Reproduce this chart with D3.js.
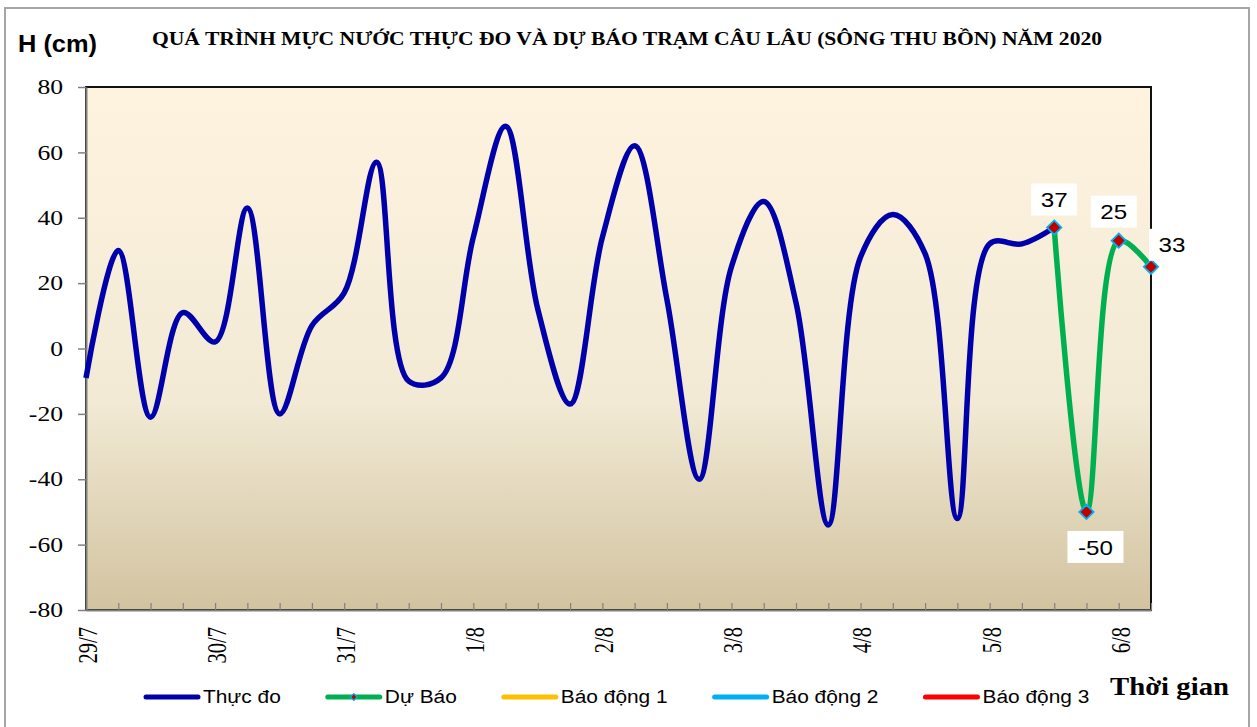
<!DOCTYPE html>
<html>
<head>
<meta charset="utf-8">
<script src="https://cdn.jsdelivr.net/npm/d3@7"></script>
<style>
  body { margin: 0; background: #fff; }
  svg { display: block; }
</style>
</head>
<body>
<div id="chart"></div>
<script>
// data (one point every 6 hours)
var thucDo = [-9, 30, -21, 11, 2, 43, -20, 7, 17, 57, -10, -9, 34, 68, 12, -17, 34, 62, 15, -40,
              25, 45, 14, -54, 28, 41, 29, -52, 32, 32, 37];
var duBaoStart = 30;
var duBao = [37, -50, 33, 25];
var duBaoLabels = ['37', '-50', '25', '33'];   // as printed on the chart
var nPoints = 34;
var dayLabels = ['29/7', '30/7', '31/7', '1/8', '2/8', '3/8', '4/8', '5/8', '6/8'];
var yTicks = [-80, -60, -40, -20, 0, 20, 40, 60, 80];
var legendNames = ['Thực đo', 'Dự Báo', 'Báo động 1', 'Báo động 2', 'Báo động 3'];
var legendColors = ['#0000AA', '#00B050', '#FFC000', '#00B0F0', '#FF0000'];

var width = 1257, height = 727;
var svg = d3.select('#chart').append('svg').attr('width', width).attr('height', height);

var pLeft = 86, pRight = 1151, pTop = 87, pBottom = 610;

var x = d3.scaleLinear().domain([0, nPoints - 1]).range([pLeft, pRight]);
var y = d3.scaleLinear().domain([-80, 80]).range([pBottom, pTop]);

function stretch(sel, k) {
	sel.each(function() {
		var w = this.getComputedTextLength();
		d3.select(this).attr('textLength', w * k).attr('lengthAdjust', 'spacingAndGlyphs');
	});
}

// outer frame
svg.append('rect')
	.attr('x', 5).attr('y', 8).attr('width', 1244).attr('height', 740)
	.attr('fill', '#fff').attr('stroke', '#a6a6a6').attr('stroke-width', 2);

// plot background gradient
var grad = svg.append('defs').append('linearGradient')
	.attr('id', 'bg').attr('x1', 0).attr('y1', 0).attr('x2', 0).attr('y2', 1);
grad.append('stop').attr('offset', 0).attr('stop-color', '#FEF3DE');
grad.append('stop').attr('offset', 0.6).attr('stop-color', '#F2EAD5');
grad.append('stop').attr('offset', 1).attr('stop-color', '#D2C3A0');

svg.append('rect')
	.attr('x', pLeft).attr('y', pTop)
	.attr('width', pRight - pLeft).attr('height', pBottom - pTop)
	.attr('fill', 'url(#bg)').attr('stroke', '#111').attr('stroke-width', 2);

// y axis
var yAxis = svg.append('g')
	.attr('transform', 'translate(' + pLeft + ',0)')
	.call(d3.axisLeft(y).tickValues(yTicks).tickSize(8).tickPadding(15).tickSizeOuter(0)
		.tickFormat(function(d) { return String(d); }));
yAxis.select('.domain').attr('stroke', '#808080').attr('stroke-width', 2);
yAxis.selectAll('line').attr('stroke', '#808080').attr('stroke-width', 1.5);
yAxis.selectAll('text')
	.style('font-family', '"Liberation Serif", serif')
	.style('font-size', '21px')
	.attr('fill', '#000');
stretch(yAxis.selectAll('text'), 1.22);

// x axis: small inner ticks at every point
var xAxis = svg.append('g')
	.attr('transform', 'translate(0,' + pBottom + ')')
	.call(d3.axisBottom(x).tickValues(d3.range(1, nPoints)).tickSizeInner(-7).tickSizeOuter(0).tickFormat(''));
xAxis.select('.domain').attr('stroke', '#808080').attr('stroke-width', 2);
xAxis.selectAll('line').attr('stroke', '#808080').attr('stroke-width', 1.2);

// day labels, rotated
var xLab = svg.append('g')
	.attr('transform', 'translate(0,' + pBottom + ')')
	.call(d3.axisBottom(x)
		.tickValues(dayLabels.map(function(d, i) { return i * 4; }))
		.tickFormat(function(d) { return dayLabels[d / 4]; })
		.tickSize(0));
xLab.select('.domain').remove();
xLab.selectAll('text')
	.attr('transform', 'rotate(-90)')
	.attr('text-anchor', 'end')
	.attr('x', -17).attr('y', 1).attr('dy', '0.35em')
	.style('font-family', '"Liberation Serif", serif')
	.style('font-size', '27px')
	.attr('fill', '#000');
stretch(xLab.selectAll('text'), 0.76);

// lines
var line = d3.line()
	.x(function(d) { return x(d.i); })
	.y(function(d) { return y(d.v); })
	.curve(d3.curveCatmullRom.alpha(0.5));

var obs = thucDo.map(function(v, i) { return {i: i, v: v}; });
var fc = duBao.map(function(v, i) { return {i: duBaoStart + i, v: v}; });

svg.append('path')
	.datum(obs)
	.attr('d', line)
	.attr('fill', 'none')
	.attr('stroke', legendColors[0])
	.attr('stroke-width', 5.5)
	.attr('stroke-linejoin', 'round');

svg.append('path')
	.datum(fc)
	.attr('d', line)
	.attr('fill', 'none')
	.attr('stroke', legendColors[1])
	.attr('stroke-width', 5.5)
	.attr('stroke-linejoin', 'round');

var diamond = d3.symbol().type(d3.symbolDiamond2).size(130);
svg.selectAll('.mk')
	.data(fc)
	.enter()
	.append('path')
	.attr('class', 'mk')
	.attr('d', diamond)
	.attr('transform', function(d) { return 'translate(' + x(d.i) + ',' + y(d.v) + ')'; })
	.attr('fill', '#C00000')
	.attr('stroke', '#00B0F0')
	.attr('stroke-width', 1.8);

// data labels (offsets from their point)
var labOff = [[0, -28], [9, 35], [-5, -29], [21, -22]];
var labels = svg.selectAll('.dl')
	.data(fc)
	.enter()
	.append('g')
	.attr('class', 'dl')
	.attr('transform', function(d, i) {
		return 'translate(' + (x(d.i) + labOff[i][0]) + ',' + (y(d.v) + labOff[i][1]) + ')';
	});
labels.append('rect')
	.attr('x', function(d, i) { return duBaoLabels[i].length > 2 ? -28 : -23; })
	.attr('y', -16)
	.attr('width', function(d, i) { return duBaoLabels[i].length > 2 ? 56 : 46; })
	.attr('height', 32)
	.attr('fill', '#fff');
var labText = labels.append('text')
	.attr('text-anchor', 'middle')
	.attr('dy', '0.36em')
	.style('font-family', '"Liberation Sans", Arial, sans-serif')
	.style('font-size', '21px')
	.text(function(d, i) { return duBaoLabels[i]; });
stretch(labText, 1.15);

// titles
svg.append('text')
	.attr('x', 627).attr('y', 45)
	.attr('text-anchor', 'middle')
	.attr('textLength', 950).attr('lengthAdjust', 'spacingAndGlyphs')
	.style('font-family', '"Liberation Serif", serif')
	.style('font-weight', 'bold')
	.style('font-size', '19px')
	.text('QUÁ TRÌNH MỰC NƯỚC THỰC ĐO VÀ DỰ BÁO TRẠM CÂU LÂU (SÔNG THU BỒN) NĂM  2020');

svg.append('text')
	.attr('x', 18).attr('y', 52)
	.attr('textLength', 79).attr('lengthAdjust', 'spacingAndGlyphs')
	.style('font-family', '"Liberation Sans", Arial, sans-serif')
	.style('font-weight', 'bold')
	.style('font-size', '23px')
	.text('H (cm)');

svg.append('text')
	.attr('x', 1110).attr('y', 695)
	.attr('textLength', 119).attr('lengthAdjust', 'spacingAndGlyphs')
	.style('font-family', '"Liberation Serif", serif')
	.style('font-weight', 'bold')
	.style('font-size', '26px')
	.text('Thời gian');

// legend
var lx = 144, ly = 697;
legendNames.forEach(function(name, i) {
	var g = svg.append('g').attr('transform', 'translate(' + lx + ',' + ly + ')');
	g.append('line')
		.attr('x1', 2).attr('x2', 54)
		.attr('stroke', legendColors[i])
		.attr('stroke-width', 5)
		.attr('stroke-linecap', 'round');
	if (i === 1) {
		g.append('path')
			.attr('d', d3.symbol().type(d3.symbolDiamond2).size(30))
			.attr('transform', 'translate(28,0)')
			.attr('fill', '#C00000')
			.attr('stroke', '#00B0F0')
			.attr('stroke-width', 1.2);
	}
	var t = g.append('text')
		.attr('x', 59).attr('dy', '0.36em')
		.style('font-family', '"Liberation Sans", Arial, sans-serif')
		.style('font-size', '18px')
		.text(name);
	var w = t.node().getComputedTextLength() * 1.16;
	t.attr('textLength', w).attr('lengthAdjust', 'spacingAndGlyphs');
	lx += 59 + w + 45;
});
</script>
</body>
</html>
